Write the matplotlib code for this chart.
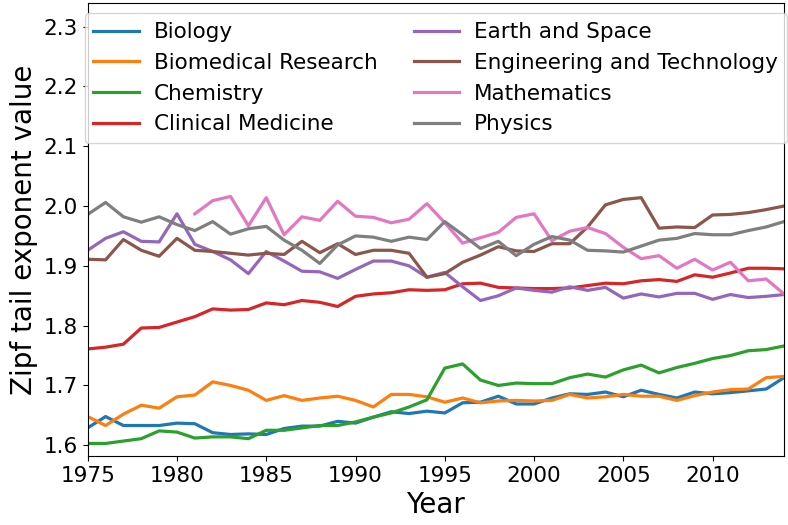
import numpy as np
import matplotlib
matplotlib.use("Agg")
import matplotlib.pyplot as plt

years = np.arange(1975, 2015)

biology = [1.629, 1.648, 1.633, 1.633, 1.633, 1.637, 1.636, 1.621, 1.618, 1.619,
           1.618, 1.628, 1.632, 1.632, 1.640, 1.637, 1.647, 1.656, 1.653, 1.657,
           1.654, 1.671, 1.672, 1.682, 1.669, 1.669, 1.679, 1.686, 1.685, 1.689,
           1.681, 1.692, 1.685, 1.679, 1.689, 1.686, 1.688, 1.691, 1.694, 1.713]
biomedical = [1.648, 1.633, 1.652, 1.667, 1.662, 1.681, 1.684, 1.706, 1.700, 1.692,
              1.675, 1.683, 1.675, 1.679, 1.682, 1.675, 1.664, 1.685, 1.685, 1.681,
              1.672, 1.679, 1.671, 1.674, 1.675, 1.674, 1.675, 1.685, 1.679, 1.681,
              1.685, 1.682, 1.682, 1.675, 1.683, 1.689, 1.693, 1.694, 1.713, 1.715]
chemistry = [1.603, 1.603, 1.607, 1.611, 1.624, 1.622, 1.612, 1.614, 1.614, 1.611,
             1.625, 1.625, 1.629, 1.633, 1.633, 1.639, 1.647, 1.654, 1.664, 1.676,
             1.729, 1.736, 1.709, 1.700, 1.704, 1.703, 1.703, 1.713, 1.719, 1.714,
             1.726, 1.734, 1.721, 1.730, 1.737, 1.745, 1.750, 1.758, 1.760, 1.766]
clinical = [1.761, 1.764, 1.769, 1.796, 1.797, 1.806, 1.815, 1.828, 1.826, 1.827,
            1.838, 1.835, 1.842, 1.839, 1.832, 1.849, 1.853, 1.855, 1.860, 1.859,
            1.860, 1.870, 1.871, 1.864, 1.863, 1.862, 1.862, 1.863, 1.867, 1.871,
            1.870, 1.875, 1.877, 1.874, 1.885, 1.881, 1.888, 1.896, 1.896, 1.895]
earth = [1.926, 1.946, 1.957, 1.941, 1.940, 1.987, 1.936, 1.924, 1.910, 1.887,
         1.924, 1.908, 1.891, 1.890, 1.879, 1.894, 1.908, 1.908, 1.900, 1.881,
         1.889, 1.865, 1.842, 1.850, 1.863, 1.859, 1.856, 1.865, 1.859, 1.864,
         1.846, 1.853, 1.848, 1.854, 1.854, 1.844, 1.852, 1.847, 1.849, 1.852]
engineering = [1.911, 1.910, 1.944, 1.926, 1.916, 1.946, 1.926, 1.924, 1.921, 1.918,
               1.921, 1.919, 1.941, 1.922, 1.937, 1.919, 1.926, 1.926, 1.921, 1.881,
               1.887, 1.906, 1.918, 1.932, 1.925, 1.924, 1.937, 1.937, 1.965, 2.002,
               2.011, 2.014, 1.963, 1.965, 1.964, 1.985, 1.986, 1.989, 1.994, 2.000]
# mathematics starts in 1981
mathematics = [np.nan] * 6 + [
    1.987, 2.009, 2.016, 1.967, 2.014, 1.952, 1.982, 1.976, 2.008, 1.983,
    1.981, 1.972, 1.978, 2.004, 1.972, 1.938, 1.947, 1.956, 1.981, 1.987,
    1.942, 1.958, 1.964, 1.954, 1.931, 1.912, 1.917, 1.896, 1.911, 1.893,
    1.906, 1.875, 1.878, 1.853]
physics = [1.986, 2.006, 1.982, 1.973, 1.982, 1.969, 1.959, 1.974, 1.953, 1.962,
           1.966, 1.943, 1.926, 1.904, 1.935, 1.950, 1.948, 1.941, 1.948, 1.944,
           1.974, 1.952, 1.929, 1.941, 1.917, 1.936, 1.949, 1.943, 1.926, 1.925,
           1.923, 1.933, 1.943, 1.946, 1.954, 1.952, 1.952, 1.959, 1.965, 1.974]

series = [
    ("Biology", biology),
    ("Biomedical Research", biomedical),
    ("Chemistry", chemistry),
    ("Clinical Medicine", clinical),
    ("Earth and Space", earth),
    ("Engineering and Technology", engineering),
    ("Mathematics", mathematics),
    ("Physics", physics),
]

fig = plt.figure(figsize=(7.88, 5.25), dpi=100)
ax = fig.add_axes([0.1113, 0.1314, 0.8836, 0.8623])

for name, vals in series:
    ax.plot(years, vals, lw=2.3, label=name)

ax.set_xlim(1975, 2014)
ax.set_ylim(1.582, 2.339)
ax.set_xticks(np.arange(1975, 2015, 5))
ax.set_yticks(np.arange(1.6, 2.35, 0.1))
ax.tick_params(labelsize=15.5)
ax.set_xlabel("Year", fontsize=20)
ax.set_ylabel("Zipf tail exponent value", fontsize=20)

ax.legend(ncol=2, loc="upper center", fontsize=15.5, handlelength=2.1,
          handletextpad=0.7, columnspacing=1.7, borderaxespad=0.47)

fig.savefig("out.png", dpi=100)
